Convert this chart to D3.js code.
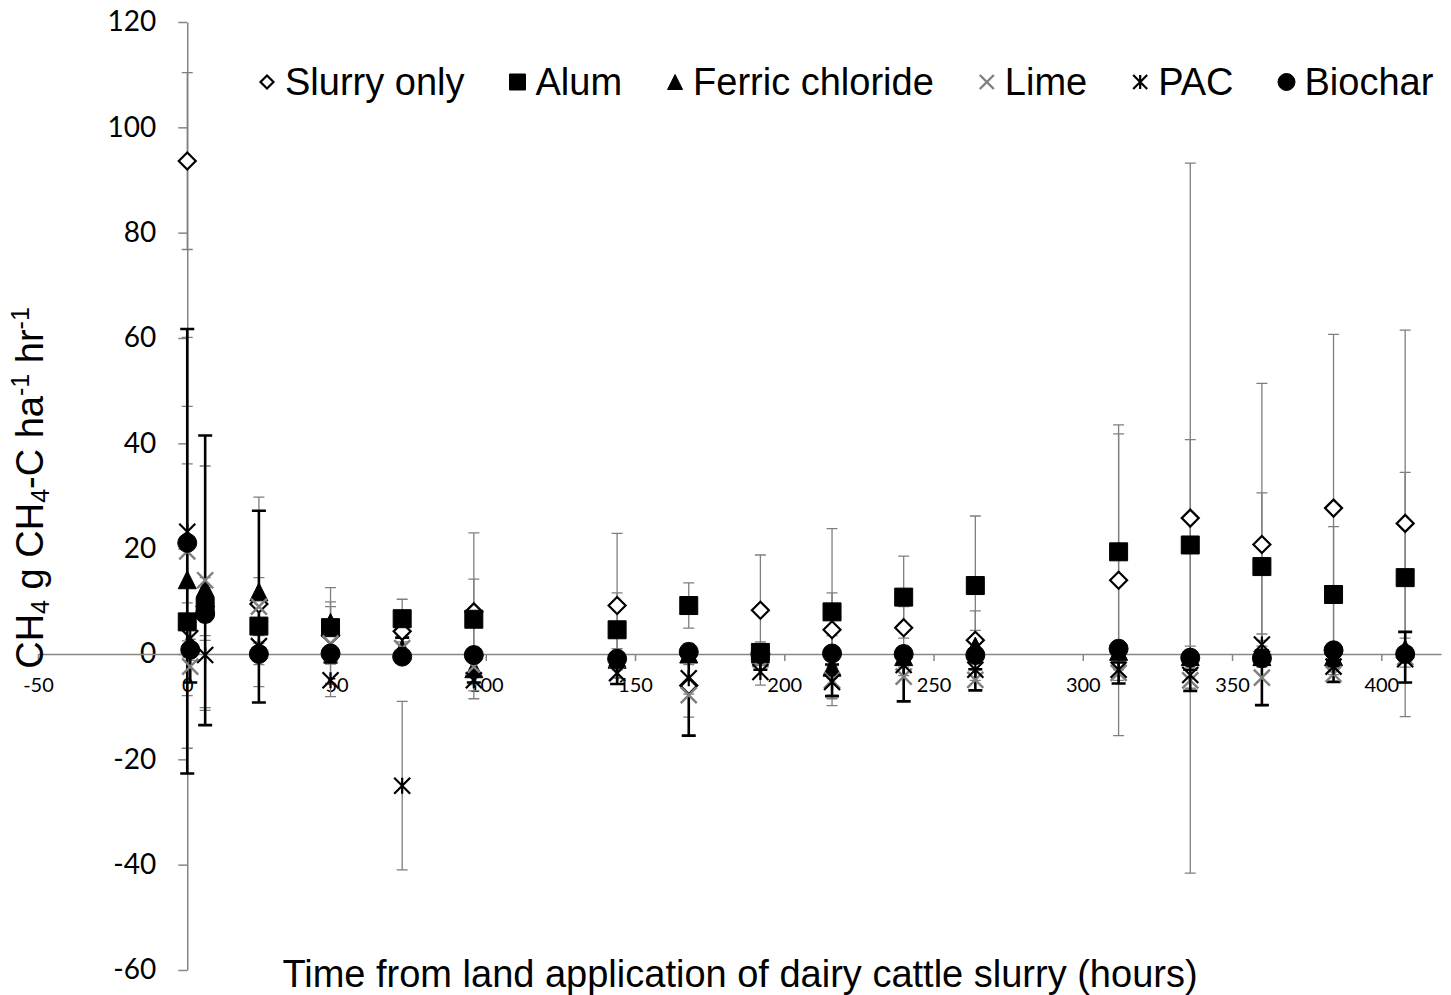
<!DOCTYPE html>
<html><head><meta charset="utf-8">
<script src="https://cdn.jsdelivr.net/npm/d3@7"></script>
<style>body{margin:0;background:#fff} svg{display:block}</style>
</head><body><svg id="c" width="1451" height="995"></svg>
<script>
// ---- data ----
const times = [0, 1, 6, 24, 48, 72, 96, 144, 168, 192, 216, 240, 264, 312, 336, 360, 384, 408];
const seriesNames = ["Slurry only", "Alum", "Ferric chloride", "Lime", "PAC", "Biochar"];
const slurryMean  = [93.6, null, 9.0, 9.5, 3.5, 4.3, 8.0, 9.2, -6.0, 8.3, 4.6, 5.0, 2.6, 14.0, 25.8, 20.8, 27.7, 24.8];
const slurrySE    = [16.8, null, 3.0, 5.0, 9.1, 2.0, 15.0, 13.7, 6.0, 10.5, 7.0, 4.0, 5.6, 29.5, 67.4, 30.6, 33.0, 36.7];
const alumMean    = [6.1, null, 9.0, 5.3, 5.0, 6.7, 6.6, 4.6, 9.2, 0.3, 8.0, 10.8, 13.0, 19.4, 20.7, 16.6, 11.3, 14.5];
const alumSE      = [3.6, null, 5.5, 3.0, 4.9, 3.7, 7.6, 7.0, 4.3, 2.0, 15.8, 7.8, 13.2, 22.4, 20.0, 14.0, 12.9, 20.0];
const ferricMean  = [14.1, null, 12.5, 11.8, 6.0, 1.0, -2.8, -1.0, 0.0, 0.0, -2.5, -0.5, 1.5, 0.5, -0.5, -0.5, -0.5, 1.0];
const ferricSE    = [22.0, null, 23.2, 18.0, 3.0, 2.0, 3.0, 2.0, 2.0, 2.0, 6.0, 2.0, 3.0, 2.0, 2.0, 2.0, 2.0, 2.0];
const limeMean    = [19.5, -2.4, 14.0, 9.0, 2.0, 1.1, -2.4, -3.7, -7.8, -1.0, -5.0, -4.3, -4.9, -3.6, -5.0, -4.5, -3.8, -0.6];
const limeSE      = [42.2, 3.0, 27.5, 18.2, 3.6, 2.0, 3.0, 2.0, 7.7, 2.0, 3.0, 4.7, 2.0, 2.0, 2.0, 5.2, 1.5, 4.8];
const pacMean     = [23.2, 3.0, -0.2, 1.5, -5.0, -25.0, -5.0, -3.6, -4.6, -3.4, -5.3, -2.1, -3.0, -3.0, -4.0, 1.8, -2.4, -1.0];
const pacSE       = [23.8, 3.0, 10.0, 2.0, 3.1, 16.0, 3.5, 1.0, 3.0, 2.5, 4.5, 2.0, 2.0, 2.0, 2.5, 2.0, 1.5, 1.5];
const biocharMean = [21.1, 0.8, 7.6, 0.0, 0.1, -0.5, -0.2, -0.9, 0.4, 0.0, 0.1, 0.0, -0.2, 1.0, -0.7, -0.8, 0.7, 0.0];
const biocharSE   = [39.0, 2.0, 5.0, 2.0, 1.5, 1.0, 1.5, 1.0, 1.5, 1.0, 1.0, 1.0, 1.0, 1.0, 1.5, 1.0, 1.0, 1.0];
const xTicks = [-50, 0, 50, 100, 150, 200, 250, 300, 350, 400];
const yTicks = [-60, -40, -20, 0, 20, 40, 60, 80, 100, 120];
const xTitle = "Time from land application of dairy cattle slurry (hours)";

// ---- build ----
const means = [slurryMean, alumMean, ferricMean, limeMean, pacMean, biocharMean];
const ses = [slurrySE, alumSE, ferricSE, limeSE, pacSE, biocharSE];
const series = seriesNames.map((name, i) => ({
  name, key: i,
  points: times.map((t, j) => ({t, v: means[i][j], se: ses[i][j]})).filter(p => p.v !== null)
}));

const svg = d3.select("#c");
const x = d3.scaleLinear().domain([-50, 420]).range([38, 1441]);
const y = d3.scaleLinear().domain([-60, 120]).range([970, 22]);
const axisGrey = "#868686";
const fmt = d => String(d);

// y axis
const gy = svg.append("g").attr("transform", `translate(${x(0)},0)`)
  .call(d3.axisLeft(y).tickValues(yTicks).tickSize(9).tickSizeOuter(0).tickPadding(22).tickFormat(fmt));
gy.select(".domain").attr("stroke", axisGrey).attr("stroke-width", 1.5);
gy.selectAll(".tick line").attr("stroke", axisGrey).attr("stroke-width", 1.5);
gy.selectAll(".tick text").attr("font-family", "Lato, 'Open Sans', sans-serif").attr("font-size", 28).attr("fill", "#000");

// x axis
const gx = svg.append("g").attr("transform", `translate(0,${y(0)})`)
  .call(d3.axisBottom(x).tickValues(xTicks).tickSize(7).tickSizeOuter(0).tickPadding(17).tickFormat(fmt));
gx.select(".domain").attr("stroke", axisGrey).attr("stroke-width", 1.5);
gx.selectAll(".tick line").attr("stroke", axisGrey).attr("stroke-width", 1.5);
gx.selectAll(".tick text").attr("font-family", "Lato, 'Open Sans', sans-serif").attr("font-size", 20).attr("fill", "#000");

// error bars
const ebStyle = i => i === 3 ? {c: "#000", w: 2.6, cap: 14} : {c: "#7f7f7f", w: 1.3, cap: 11};
const order = [0, 1, 2, 4, 5, 3];
order.forEach(i => {
  const s = series[i], st = ebStyle(i);
  const g = svg.append("g").attr("stroke", st.c).attr("stroke-width", st.w).attr("fill", "none");
  s.points.forEach(p => {
    const cx = x(p.t), y1 = y(p.v + p.se), y2 = y(p.v - p.se), h = st.cap / 2;
    g.append("path").attr("d", `M${cx},${y1}V${y2}M${cx - h},${y1}H${cx + h}M${cx - h},${y2}H${cx + h}`);
  });
});

// marker shapes
function markerPath(k, s) {
  const h = s / 2;
  switch (k) {
    case 0: return `M0,${-h}L${h},0L0,${h}L${-h},0Z`;
    case 1: return `M${-h},${-h}H${h}V${h}H${-h}Z`;
    case 2: return `M0,${-h}L${h},${h}L${-h},${h}Z`;
    case 3: return `M${-h},${-h}L${h},${h}M${h},${-h}L${-h},${h}`;
    case 4: return `M${-h},${-h}L${h},${h}M${h},${-h}L${-h},${h}M0,${-h}V${h}`;
    case 5: return d3.symbol(d3.symbolCircle, Math.PI * h * h)();
  }
}
function markerStyle(sel, k) {
  if (k === 0) sel.attr("fill", "#fff").attr("stroke", "#000").attr("stroke-width", 2.2);
  else if (k === 1 || k === 2 || k === 5) sel.attr("fill", "#000").attr("stroke", "#000").attr("stroke-width", 1);
  else if (k === 3) sel.attr("fill", "none").attr("stroke", "#7f7f7f").attr("stroke-width", 2.4);
  else sel.attr("fill", "none").attr("stroke", "#000").attr("stroke-width", 2.2);
}
const plotSize = [17, 18, 18, 16, 16, 19];
series.forEach((s, i) => {
  const g = svg.append("g");
  g.selectAll("path").data(s.points).join("path")
    .attr("d", markerPath(i, plotSize[i]))
    .attr("transform", p => `translate(${x(p.t)},${y(p.v)})`)
    .call(markerStyle, i);
});

// legend
const legSize = [13, 16, 15, 14, 14, 17];
const leg = svg.append("g");
let lx = 267;
const ly = 82;
series.forEach((s, i) => {
  leg.append("path").attr("d", markerPath(i, legSize[i])).attr("transform", `translate(${lx},${ly})`).call(markerStyle, i);
  const t = leg.append("text").attr("x", lx + 18).attr("y", ly + 13)
    .attr("font-family", "'Liberation Sans', Arial, sans-serif").attr("font-size", 38).attr("fill", "#000").text(s.name);
  lx = lx + 18 + t.node().getComputedTextLength() + 53;
});

// axis titles
svg.append("text").attr("x", 740).attr("y", 987).attr("text-anchor", "middle")
  .attr("font-family", "'Liberation Sans', Arial, sans-serif").attr("font-size", 38).attr("fill", "#000").text(xTitle);

const yt = svg.append("text").attr("transform", `translate(43,488) rotate(-90)`).attr("text-anchor", "middle")
  .attr("font-family", "'Liberation Sans', Arial, sans-serif").attr("font-size", 38).attr("fill", "#000");
const parts = [["CH", 0], ["4", 1], [" g CH", 0], ["4", 1], ["-C ha", 0], ["-1", -1], [" hr", 0], ["-1", -1]];
parts.forEach(([txt, mode]) => {
  const ts = yt.append("tspan").text(txt);
  if (mode === 1) ts.attr("font-size", 25).attr("baseline-shift", "-25%");
  if (mode === -1) ts.attr("font-size", 25).attr("baseline-shift", "55%");
});
</script>
</body></html>
